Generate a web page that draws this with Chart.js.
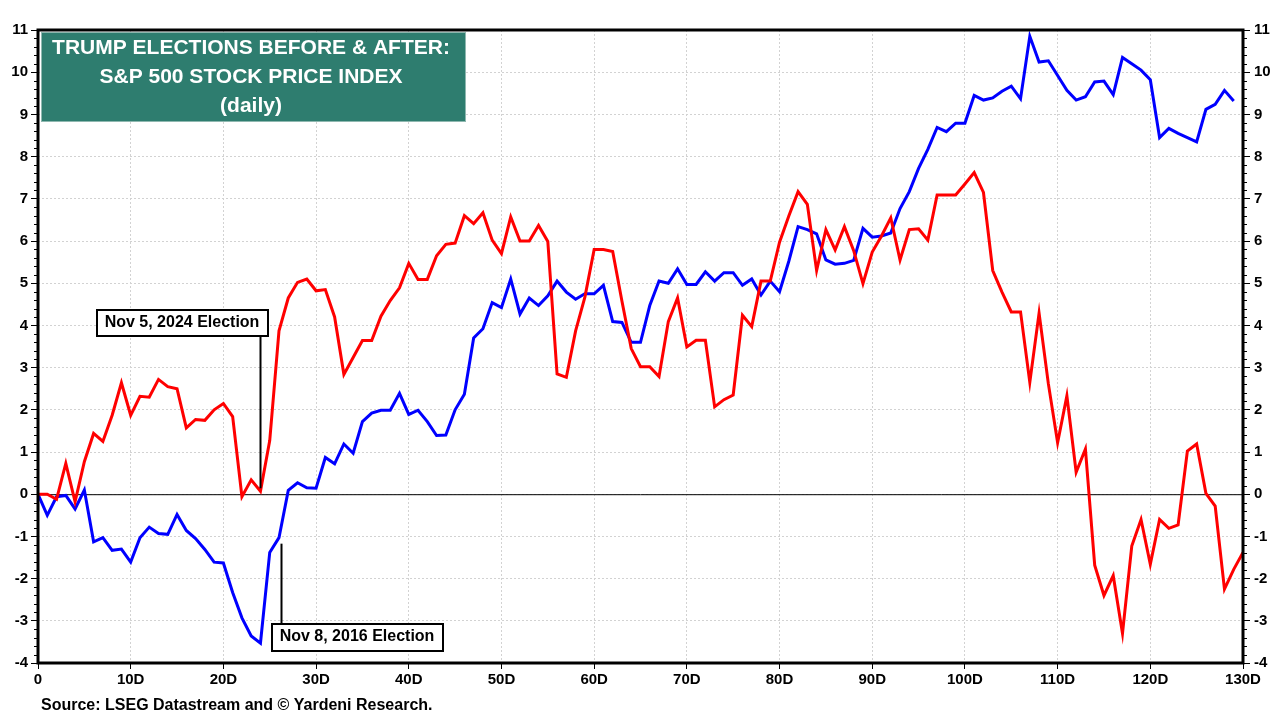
<!DOCTYPE html>
<html>
<head>
<meta charset="utf-8">
<script src="https://cdn.jsdelivr.net/npm/chart.js@4.4.1/dist/chart.umd.min.js"></script>
<style>
  html, body { margin: 0; padding: 0; background: #ffffff; }
  #wrap { width: 1280px; height: 720px; }
</style>
</head>
<body>
<div id="wrap"><canvas id="trump-chart" width="1280" height="720"></canvas></div>
<script>
// S&P 500 - Trump elections before & after (% change, daily)
const xTickLabels = ["0", "10D", "20D", "30D", "40D", "50D", "60D", "70D", "80D", "90D", "100D", "110D", "120D", "130D"];
const yTickValues = [-4, -3, -2, -1, 0, 1, 2, 3, 4, 5, 6, 7, 8, 9, 10, 11];
const titleLines = ["TRUMP ELECTIONS BEFORE & AFTER:", "S&P 500 STOCK PRICE INDEX", "(daily)"];

// Nov 5, 2024 election (red), day 0..130
const election2024 = [
  0.00, 0.00, -0.12, 0.73, -0.18, 0.77, 1.44, 1.25, 1.87, 2.64,
  1.87, 2.32, 2.30, 2.72, 2.55, 2.50, 1.57, 1.77, 1.75, 2.00,
  2.15, 1.84, -0.06, 0.34, 0.07, 1.27, 3.87, 4.65, 5.02, 5.10,
  4.82, 4.85, 4.20, 2.84, 3.24, 3.64, 3.64, 4.22, 4.59, 4.89,
  5.47, 5.09, 5.09, 5.65, 5.92, 5.95, 6.60, 6.41, 6.67, 6.02,
  5.70, 6.57, 6.00, 6.00, 6.37, 5.99, 2.85, 2.77, 3.87, 4.67,
  5.80, 5.80, 5.75, 4.57, 3.45, 3.02, 3.02, 2.79, 4.09, 4.65,
  3.49, 3.65, 3.65, 2.07, 2.24, 2.35, 4.24, 3.97, 5.05, 5.05,
  5.97, 6.59, 7.17, 6.87, 5.30, 6.27, 5.79, 6.34, 5.77, 4.99,
  5.74, 6.12, 6.55, 5.55, 6.27, 6.29, 6.02, 7.09, 7.09, 7.09,
  7.35, 7.62, 7.15, 5.30, 4.79, 4.32, 4.32, 2.65, 4.29, 2.62,
  1.22, 2.33, 0.52, 1.07, -1.68, -2.40, -1.93, -3.30, -1.23, -0.60,
  -1.66, -0.60, -0.81, -0.73, 1.02, 1.19, 0.02, -0.28, -2.25, -1.78,
  -1.38
];

// Nov 8, 2016 election (blue), day 0..129
const election2016 = [
  0.00, -0.50, -0.06, -0.03, -0.35, 0.10, -1.13, -1.03, -1.33, -1.30,
  -1.61, -1.03, -0.78, -0.93, -0.95, -0.48, -0.86, -1.05, -1.31, -1.61,
  -1.63, -2.33, -2.93, -3.36, -3.53, -1.38, -1.03, 0.09, 0.27, 0.15,
  0.14, 0.87, 0.72, 1.19, 0.97, 1.72, 1.92, 1.99, 1.99, 2.39,
  1.89, 1.99, 1.72, 1.39, 1.40, 2.00, 2.37, 3.70, 3.92, 4.54,
  4.42, 5.10, 4.27, 4.65, 4.47, 4.70, 5.05, 4.79, 4.62, 4.75,
  4.75, 4.95, 4.09, 4.07, 3.60, 3.60, 4.47, 5.05, 5.00, 5.34,
  4.97, 4.97, 5.27, 5.05, 5.25, 5.25, 4.95, 5.10, 4.72, 5.05,
  4.80, 5.52, 6.34, 6.27, 6.17, 5.55, 5.45, 5.47, 5.54, 6.30,
  6.09, 6.12, 6.19, 6.77, 7.17, 7.72, 8.17, 8.69, 8.59, 8.79,
  8.79, 9.45, 9.34, 9.39, 9.55, 9.67, 9.37, 10.85, 10.24, 10.27,
  9.92, 9.57, 9.34, 9.42, 9.77, 9.79, 9.47, 10.35, 10.20, 10.05,
  9.82, 8.45, 8.67, 8.55, 8.45, 8.35, 9.12, 9.24, 9.57, 9.32
];

const FONT = "'Liberation Sans', Arial, sans-serif";

function toPoints(values) {
  return values.map((v, i) => ({ x: i, y: v }));
}

// frame, zero line, minor ticks, title box, election labels, source
const decorPlugin = {
  id: "decor",
  beforeDatasetsDraw(chart) {
    const { ctx, chartArea: { left, right }, scales: { y } } = chart;
    const y0 = y.getPixelForValue(0);
    ctx.save();
    ctx.strokeStyle = "#000000";
    ctx.lineWidth = 1;
    ctx.beginPath();
    ctx.moveTo(left, y0 + 0.5);
    ctx.lineTo(right, y0 + 0.5);
    ctx.stroke();
    ctx.restore();
  },
  afterDraw(chart) {
    const { ctx, chartArea: { left, top, right, bottom }, scales: { x, y } } = chart;
    ctx.save();

    // minor ticks every 0.2 on both sides
    ctx.strokeStyle = "#000000";
    ctx.lineWidth = 1;
    for (let k = -20; k <= 55; k++) {
      if (k % 5 === 0) continue;
      const py = Math.round(y.getPixelForValue(k / 5)) + 0.5;
      ctx.beginPath();
      ctx.moveTo(left - 4, py);
      ctx.lineTo(left, py);
      ctx.moveTo(right, py);
      ctx.lineTo(right + 4, py);
      ctx.stroke();
    }

    // heavy plot frame
    ctx.lineWidth = 3;
    ctx.strokeRect(left, top, right - left, bottom - top);

    // title box
    ctx.fillStyle = "#2E7D6F";
    ctx.fillRect(41, 32, 425, 90);
    ctx.strokeStyle = "#8fb8b0";
    ctx.lineWidth = 1;
    ctx.strokeRect(41.5, 32.5, 424, 89);
    ctx.fillStyle = "#ffffff";
    ctx.font = "bold 21px " + FONT;
    ctx.textAlign = "center";
    ctx.textBaseline = "middle";
    ctx.fillText(titleLines[0], 251, 48);
    ctx.fillText(titleLines[1], 251, 77);
    ctx.fillText(titleLines[2], 251, 106);

    // Nov 5, 2024 marker
    const x24 = Math.round(x.getPixelForValue(24)) + 0.5;
    ctx.strokeStyle = "#000000";
    ctx.lineWidth = 2;
    ctx.beginPath();
    ctx.moveTo(x24, 336);
    ctx.lineTo(x24, y.getPixelForValue(election2024[24]) - 3);
    ctx.stroke();
    ctx.fillStyle = "#ffffff";
    ctx.fillRect(97, 310, 171, 26);
    ctx.strokeRect(97, 310, 171, 26);
    ctx.fillStyle = "#000000";
    ctx.font = "bold 16px " + FONT;
    ctx.fillText("Nov 5, 2024 Election", 182, 323);

    // Nov 8, 2016 marker
    const x16 = Math.round(x.getPixelForValue(26.2)) + 0.5;
    ctx.beginPath();
    ctx.moveTo(x16, y.getPixelForValue(election2016[26]) + 6);
    ctx.lineTo(x16, 624);
    ctx.stroke();
    ctx.fillStyle = "#ffffff";
    ctx.fillRect(272, 624, 171, 27);
    ctx.strokeRect(272, 624, 171, 27);
    ctx.fillStyle = "#000000";
    ctx.fillText("Nov 8, 2016 Election", 357, 637);

    // source
    ctx.textAlign = "left";
    ctx.font = "bold 16px " + FONT;
    ctx.fillText("Source: LSEG Datastream and \u00A9 Yardeni Research.", 41, 706);

    ctx.restore();
  },
};

const tickFont = { family: FONT, size: 15, weight: "bold" };

new Chart(document.getElementById("trump-chart"), {
  type: "line",
  data: {
    datasets: [
      {
        label: "2024",
        data: toPoints(election2024),
        borderColor: "#FF0000",
        borderWidth: 3,
        pointRadius: 0,
        tension: 0,
      },
      {
        label: "2016",
        data: toPoints(election2016),
        borderColor: "#0000FF",
        borderWidth: 3,
        pointRadius: 0,
        tension: 0,
      },
    ],
  },
  options: {
    responsive: false,
    animation: false,
    devicePixelRatio: 1,
    layout: { padding: { top: 30, left: 0, right: 0, bottom: 0 } },
    plugins: {
      legend: { display: false },
      tooltip: { enabled: false },
    },
    scales: {
      x: {
        type: "linear",
        position: "bottom",
        min: 0,
        max: 130,
        afterBuildTicks(scale) {
          scale.ticks = xTickLabels.map((_, i) => ({ value: i * 10 }));
        },
        afterFit(scale) { scale.height = 57; },
        ticks: {
          color: "#000000",
          font: tickFont,
          padding: 2,
          maxRotation: 0,
          autoSkip: false,
          callback: (v) => xTickLabels[Math.round(v / 10)],
        },
        grid: { color: "#d2d2d2", lineWidth: 1, tickColor: "#000000", tickLength: 6, tickWidth: 1 },
        border: { display: false, dash: [2, 2] },
      },
      y: {
        type: "linear",
        position: "left",
        min: -4,
        max: 11,
        afterBuildTicks(scale) {
          scale.ticks = yTickValues.map((v) => ({ value: v }));
        },
        afterFit(scale) { scale.width = 38; },
        ticks: { color: "#000000", font: tickFont, padding: 3, autoSkip: false },
        grid: { color: "#d2d2d2", lineWidth: 1, tickColor: "#000000", tickLength: 7, tickWidth: 1 },
        border: { display: false, dash: [2, 2] },
      },
      y2: {
        type: "linear",
        position: "right",
        min: -4,
        max: 11,
        afterBuildTicks(scale) {
          scale.ticks = yTickValues.map((v) => ({ value: v }));
        },
        afterFit(scale) { scale.width = 37; },
        ticks: { color: "#000000", font: tickFont, padding: 4, autoSkip: false },
        grid: { drawOnChartArea: false, tickColor: "#000000", tickLength: 7, tickWidth: 1 },
        border: { display: false },
      },
    },
  },
  plugins: [decorPlugin],
});
</script>
</body>
</html>
